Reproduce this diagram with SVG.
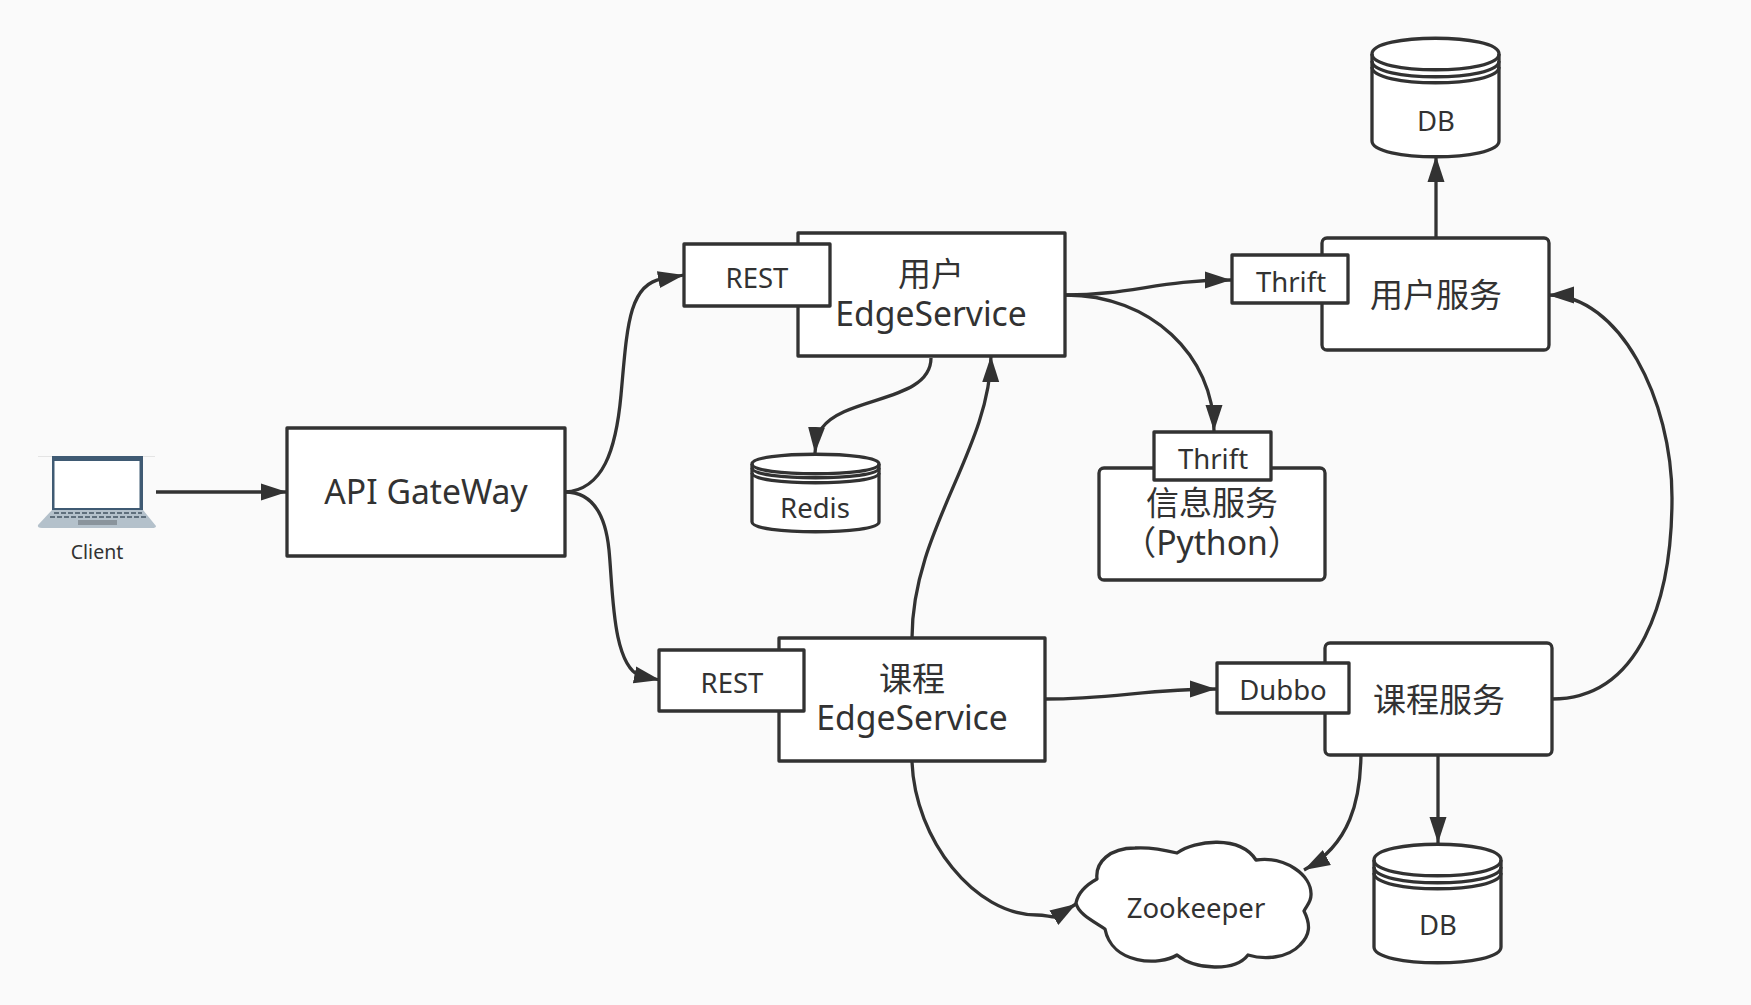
<svg xmlns="http://www.w3.org/2000/svg" width="1751" height="1005" viewBox="0 0 1751 1005">
<style>
.b{fill:#fff;stroke:#323232;stroke-width:3.300;stroke-linejoin:round}
.s{fill:none;stroke:#323232;stroke-width:3.300}
.c{fill:none;stroke:#323232;stroke-width:3.300;marker-end:url(#a)}
text{font-family:"Noto Sans","Noto Sans CJK SC",sans-serif;fill:#323232;text-anchor:middle}
.t36{font-size:33.700px}.t34{font-size:33px}.t28{font-size:27.500px}.t20{font-size:19.500px}
</style>
<defs>
<marker id="a" markerUnits="userSpaceOnUse" markerWidth="27" markerHeight="18" refX="26" refY="8.500" orient="auto" viewBox="0 0 27 17"><path d="M0 0L26 8.500L0 17Z" fill="#323232"/></marker>
</defs>
<rect width="1751" height="1005" fill="#fafafa"/>
<g id="connectors">
<path class="c" d="M156 492H287"/>
<path class="c" d="M565 492C603 490 616 450 621 395C627 330 628 284 662 279L684 275"/>
<path class="c" d="M565 492C590 492 605 510 609 550C613 590 612 664 640 676L660 680"/>
<path class="c" d="M931 358C931 402 845 396 822 428Q816 436 815 453"/>
<path class="c" d="M1066 295C1130 295 1160 280 1231 280"/>
<path class="c" d="M1066 295C1150 295 1214 355 1214 431"/>
<path class="c" d="M912 638C912 530 990 450 991 356"/>
<path class="c" d="M1046 699C1110 699 1150 689 1216 689"/>
<path class="c" d="M912 762C915 840 975 915 1037 915C1045 915 1050 917 1055 917L1076 904"/>
<path class="c" d="M1361 751C1361 800 1350 845 1304 870"/>
<path class="c" d="M1438 755V843"/>
<path class="c" d="M1436 238V156"/>
<path class="c" d="M1552 699C1640 699 1672 600 1672 498C1672 400 1620 295 1548 295"/>
</g>
<g id="client">
<path d="M38 456.500H155" stroke="#e4e4e4" fill="none"/>
<rect x="52" y="456" width="91" height="56" fill="#3f5a73"/>
<rect x="54.500" y="461" width="85" height="47" fill="#fff"/>
<path d="M52 510H143L156 526Q156 528 152 528H42Q37 528 38 525Z" fill="#b4c1cb"/>
<path d="M54 513H142M50 517H146" stroke="#5f6f7c" stroke-width="2" stroke-dasharray="5 2" fill="none"/>
<rect x="78" y="520" width="39" height="5" fill="#8a949c"/>
<text x="97" y="559" class="t20">Client</text>
</g>
<g id="gateway"><rect class="b" x="287" y="428" width="278" height="128"/><text x="426" y="504" class="t36">API GateWay</text></g>
<g id="user-edge"><rect class="b" x="798" y="233" width="267" height="123"/><text x="931" y="286" class="t34">用户</text><text x="931" y="326" class="t36">EdgeService</text></g>
<g id="rest1"><rect class="b" x="684" y="244" width="146" height="62"/><text x="757" y="288" class="t28">REST</text></g>
<g id="course-edge"><rect class="b" x="779" y="638" width="266" height="123"/><text x="912" y="691" class="t34">课程</text><text x="912" y="730" class="t36">EdgeService</text></g>
<g id="rest2"><rect class="b" x="659" y="650" width="145" height="61"/><text x="732" y="693" class="t28">REST</text></g>
<g id="user-service"><rect class="b" x="1322" y="238" width="227" height="112" rx="5"/><text x="1436" y="307" class="t34">用户服务</text></g>
<g id="thrift1"><rect class="b" x="1232" y="255" width="116" height="48"/><text x="1291" y="292" class="t28">Thrift</text></g>
<g id="info-service"><rect class="b" x="1099" y="468" width="226" height="112" rx="5"/><text x="1212" y="515" class="t34">信息服务</text><text x="1212" y="555" class="t36">（Python）</text></g>
<g id="thrift2"><rect class="b" x="1154" y="432" width="117" height="48"/><text x="1213" y="469" class="t28">Thrift</text></g>
<g id="course-service"><rect class="b" x="1325" y="643" width="227" height="112" rx="5"/><text x="1439" y="712" class="t34">课程服务</text></g>
<g id="dubbo"><rect class="b" x="1217" y="663" width="132" height="50"/><text x="1283" y="700" class="t28">Dubbo</text></g>
<g id="db1"><path class="b" d="M1372 54C1372 33 1499 33 1499 54V141C1499 162 1372 162 1372 141Z"/><path class="s" d="M1372 54C1372 75 1499 75 1499 54M1372 61C1372 82 1499 82 1499 61M1372 67C1372 88 1499 88 1499 67"/><text x="1436" y="131" class="t28">DB</text></g>
<g id="db2"><path class="b" d="M1374 860C1374 839 1501 839 1501 860V947C1501 968 1374 968 1374 947Z"/><path class="s" d="M1374 860C1374 881 1501 881 1501 860M1374 867C1374 888 1501 888 1501 867M1374 873C1374 894 1501 894 1501 873"/><text x="1438" y="935" class="t28">DB</text></g>
<g id="redis"><path class="b" d="M752 464C752 451 879 451 879 464V522C879 535 752 535 752 522Z"/><path class="s" d="M752 464C752 477 879 477 879 464M752 468C752 481 879 481 879 468M752 473C752 486 879 486 879 473"/><text x="815" y="518" class="t28">Redis</text></g>
<g id="zookeeper"><path class="b" d="M1076 903C1078 893 1086 885 1097 879C1095 862 1110 848 1135 848C1150 847 1165 850 1177 853C1195 840 1240 835 1256 860C1285 856 1312 875 1311 895C1311 902 1307 905 1304 911C1311 925 1310 935 1300 945C1288 958 1265 960 1248 955C1235 972 1195 970 1177 955C1160 966 1112 965 1105 929C1095 922 1078 914 1076 903Z"/><text x="1196" y="918" class="t28">Zookeeper</text></g>
</svg>
